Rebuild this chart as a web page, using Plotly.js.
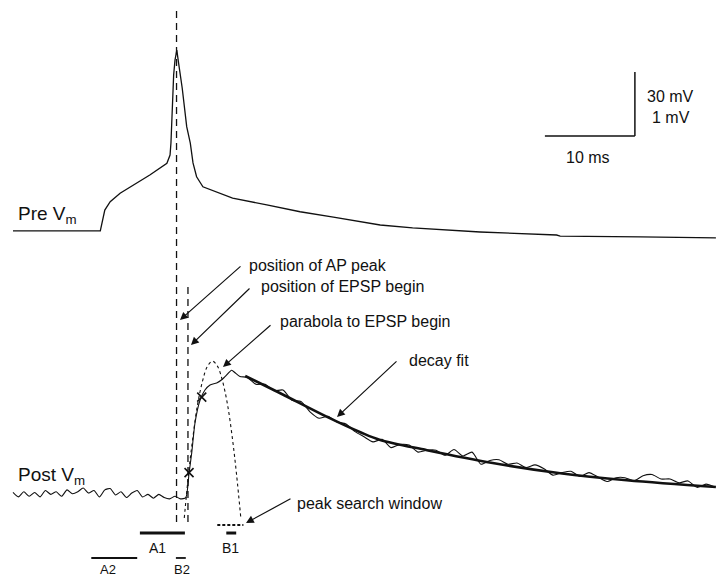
<!DOCTYPE html>
<html>
<head>
<meta charset="utf-8">
<script src="https://cdn.plot.ly/plotly-3.0.1.min.js"></script>
<style>
html,body{margin:0;padding:0;background:#fff;}
#chart{width:716px;height:578px;}
</style>
</head>
<body>
<div id="chart"></div>
<script>
// ---------------- DATA ----------------
// Presynaptic membrane potential (time in ms, voltage in mV)
const preT = [0, 9.7, 10.2, 10.8, 11.9, 13.4, 15.2, 17.1, 17.45, 17.55, 17.65, 17.75, 17.85, 18.0, 18.2, 18.4, 18.8, 19.3, 19.7, 20.0, 20.4, 21.1, 23.0, 24.4, 28.2, 31.9, 35.6, 38.6, 40.8, 44.4, 47.4, 51.9, 60.4, 60.8, 69.7, 78.1];
const preV = [-69.2, -69.2, -59.4, -55.5, -51.5, -47.7, -43.0, -37.5, -33.6, -28.0, -13.9, 0.2, 3.9, 10.9, 15.6, 9.5, -2.2, -20.3, -28.0, -37.3, -43.8, -48.5, -51.4, -53.8, -57.0, -60.2, -62.7, -64.9, -66.4, -67.8, -68.7, -69.7, -71.1, -71.6, -72.0, -72.4];

// Postsynaptic membrane potential (time in ms, voltage in mV relative to rest)
const postT = [0, 0.6, 1.2, 1.8, 2.4, 3.0, 3.6, 4.2, 4.8, 5.4, 6.0, 6.6, 7.2, 7.8, 8.4, 9.0, 9.6, 10.2, 10.8, 11.4, 12.0, 12.6, 13.2, 13.8, 14.4, 15.0, 15.6, 16.2, 16.8, 17.4, 18.0, 18.6, 19.2,
  19.56, 19.86, 20.22, 20.78, 21.33, 21.89, 22.63, 23.19, 23.56, 24.3, 24.67, 25.22,
  26, 27, 28, 29, 30, 31, 32, 33, 34, 35, 36, 37, 38, 39, 40, 41, 42, 43, 44, 45, 46, 47, 48, 49, 50, 51, 52, 53, 54, 55, 56, 57, 58, 59, 60, 61, 62, 63, 64, 65, 66, 67, 68, 69, 70, 71, 72, 73, 74, 75, 76, 77, 78];
const postV = [0.04, -0.03, 0.05, -0.02, 0.04, -0.03, 0.07, 0.01, 0.05, -0.02, 0.08, 0.02, 0.05, 0.11, 0.03, 0.07, -0.03, 0.08, 0.10, 0.0, 0.05, -0.04, 0.03, 0.07, -0.03, 0.01, -0.05, 0.01, -0.04, -0.06, -0.02, -0.06, -0.04,
  0.34, 0.66, 1.125, 1.48, 1.64, 1.72, 1.75, 1.80, 1.85, 1.95, 1.91, 1.85,
  1.84, 1.73, 1.73, 1.63, 1.64, 1.48, 1.46, 1.30, 1.20, 1.23, 1.14, 1.11, 0.99, 0.91, 0.83, 0.87, 0.74, 0.79, 0.78, 0.67, 0.70, 0.70, 0.62, 0.71, 0.61, 0.67, 0.48, 0.54, 0.55, 0.48, 0.50, 0.43, 0.47, 0.41, 0.31, 0.35, 0.37, 0.29, 0.35, 0.28, 0.21, 0.27, 0.27, 0.22, 0.30, 0.32, 0.25, 0.25, 0.19, 0.22, 0.12, 0.17, 0.125];

// Exponential decay fit
const fitT = [25.8, 29.7, 34.9, 38.6, 40.8, 46.0, 53.3, 60.8, 68.2, 78.1];
const fitV = [1.86, 1.59, 1.22, 0.98, 0.86, 0.70, 0.50, 0.34, 0.23, 0.125];

// Parabola fitted to the EPSP rise
const paraT = [19.03, 19.5, 19.95, 20.5, 21.06, 21.6, 22.17, 22.73, 23.28, 23.84, 24.4, 24.84, 25.3];
const paraV = [-0.36, 0.32, 0.86, 1.41, 1.78, 2.01, 2.09, 2.01, 1.78, 1.41, 0.86, 0.32, -0.34];

// Points marked with x on the EPSP rise
const markT = [19.56, 20.97];
const markV = [0.35, 1.53];

// Characteristic times (ms)
const apPeakTime = 18.17;
const epspBeginTime = 19.44;

// Analysis windows (ms)
const windowNames = ['A1', 'B1', 'A2', 'B2'];
const windowStart = [14.1, 23.7, 8.7, 18.1];
const windowEnd   = [19.1, 24.8, 13.8, 19.2];
const searchWindow = [22.7, 25.6];

// Scale bar
const scaleMs = 10;
const scalePreMv = 30;
const scalePostMv = 1;

// ---------------- LAYOUT HELPERS ----------------
const W = 716, H = 578;
const px = v => v / W;          // pixel -> paper x
const py = v => 1 - v / H;      // pixel -> paper y
const FONT = 'Liberation Sans, Arial, Helvetica, sans-serif';
const INK = '#111';

const traces = [];
traces.push({x: preT, y: preV, mode: 'lines', line: {color: INK, width: 1.3}, yaxis: 'y', hoverinfo: 'skip'});
traces.push({x: postT, y: postV, mode: 'lines', line: {color: INK, width: 1.1, shape: 'spline', smoothing: 0.6}, yaxis: 'y2', hoverinfo: 'skip'});
traces.push({x: paraT, y: paraV, mode: 'lines', line: {color: INK, width: 1.1, dash: 'dot', shape: 'spline'}, yaxis: 'y2', hoverinfo: 'skip'});
traces.push({x: fitT, y: fitV, mode: 'lines', line: {color: INK, width: 2.6, shape: 'spline'}, yaxis: 'y2', hoverinfo: 'skip'});
traces.push({x: markT, y: markV, mode: 'markers', marker: {symbol: 'x-thin', size: 9, line: {color: INK, width: 1.6}}, yaxis: 'y2', hoverinfo: 'skip'});

// windows
const levels = {A1: -0.594, B1: -0.594, A2: -0.984, B2: -0.984};
const widths = {A1: 3, B1: 3, A2: 1.8, B2: 1.8};
windowNames.forEach((n, i) => {
  traces.push({x: [windowStart[i], windowEnd[i]], y: [levels[n], levels[n]], mode: 'lines', line: {color: INK, width: widths[n]}, yaxis: 'y2', hoverinfo: 'skip'});
});
traces.push({x: searchWindow, y: [-0.469, -0.469], mode: 'lines', line: {color: INK, width: 1.8, dash: '3px,2px'}, yaxis: 'y2', hoverinfo: 'skip'});

// scale bar in data units
const sbX0 = 59.1, sbY0 = -24.7;
const shapes = [
  {type: 'line', xref: 'x', yref: 'y', x0: sbX0, x1: sbX0 + scaleMs, y0: sbY0, y1: sbY0, line: {color: INK, width: 1.5}},
  {type: 'line', xref: 'x', yref: 'y', x0: sbX0 + scaleMs, x1: sbX0 + scaleMs, y0: sbY0, y1: sbY0 + scalePreMv, line: {color: INK, width: 1.5}},
  {type: 'line', xref: 'x', yref: 'paper', x0: apPeakTime, x1: apPeakTime, y0: py(522), y1: py(10), line: {color: INK, width: 1.3, dash: '7px,5px'}},
  {type: 'line', xref: 'x', yref: 'paper', x0: epspBeginTime, x1: epspBeginTime, y0: py(522), y1: py(283), line: {color: INK, width: 1.3, dash: '7px,5px'}}
];

function txt(text, x, y, xanchor, size) {
  return {text: text, xref: 'paper', yref: 'paper', x: px(x), y: py(y), xanchor: xanchor || 'left', yanchor: 'middle',
          showarrow: false, font: {family: FONT, size: size || 16, color: INK}};
}
function arrow(hx, hy, tx, ty) {
  return {text: '', xref: 'paper', yref: 'paper', x: px(hx), y: py(hy), ax: tx - hx, ay: ty - hy,
          showarrow: true, arrowhead: 2, arrowsize: 1.3, arrowwidth: 1.2, arrowcolor: INK, standoff: 0, startstandoff: 0};
}

const annotations = [
  txt('Pre V<sub>m</sub>', 16, 215, 'left', 19),
  txt('Post V<sub>m</sub>', 16, 476, 'left', 19),
  txt('position of AP peak', 247, 265),
  txt('position of EPSP begin', 259, 287),
  txt('parabola to EPSP begin', 278, 321),
  txt('decay fit', 407, 360),
  txt('peak search window', 295, 503),
  txt(scalePreMv + ' mV', 645, 96),
  txt(scalePostMv + ' mV', 650, 117),
  txt(scaleMs + ' ms', 588, 157, 'center'),
  txt(windowNames[0], 157, 548, 'center', 14),
  txt(windowNames[1], 230, 548, 'center', 14),
  txt(windowNames[2], 108, 569, 'center', 13),
  txt(windowNames[3], 182, 569, 'center', 13),
  arrow(180, 320, 242, 265),
  arrow(191, 345, 251, 287),
  arrow(223, 367, 272, 324),
  arrow(337, 417, 398, 360),
  arrow(246, 523, 292, 498)
];

const layout = {
  width: W, height: H,
  margin: {l: 0, r: 0, t: 0, b: 0},
  paper_bgcolor: '#fff', plot_bgcolor: '#fff',
  showlegend: false,
  xaxis: {range: [-13 / 9, 703 / 9], visible: false, fixedrange: true},
  yaxis: {range: [-231.875, 39.06], visible: false, fixedrange: true},
  yaxis2: {range: [-1.296875, 7.734375], visible: false, overlaying: 'y', fixedrange: true},
  shapes: shapes,
  annotations: annotations
};

Plotly.newPlot('chart', traces, layout, {staticPlot: true, displayModeBar: false});
</script>
</body>
</html>
